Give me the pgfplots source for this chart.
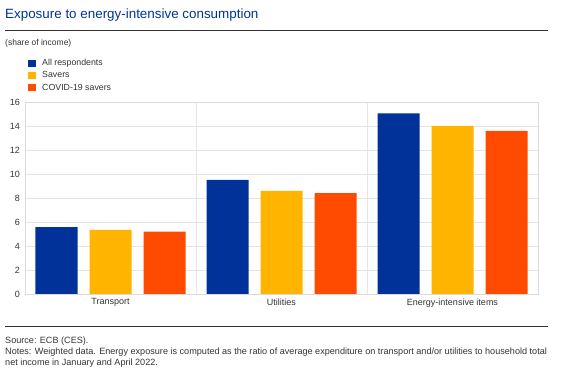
\documentclass[border=0pt]{standalone}
\usepackage{fontspec}
\setmainfont{Liberation Sans}
\usepackage{pgfplots}
\pgfplotsset{compat=1.18}
\definecolor{ecbblue}{HTML}{003299}
\definecolor{ecbyellow}{HTML}{FFB400}
\definecolor{ecborange}{HTML}{FF4B00}
\definecolor{txtgray}{HTML}{333333}
\begin{document}
\begin{tikzpicture}
\path[use as bounding box] (0pt,0pt) rectangle (563pt,380pt);
\node[anchor=base west, inner sep=0pt, text=ecbblue, font=\fontsize{13.4}{15}\selectfont] at (5pt,361pt) {Exposure to energy-intensive consumption};
\draw[txtgray, line width=0.9pt] (5pt,350pt) -- (548pt,350pt);
\node[anchor=base west, inner sep=0pt, text=txtgray, font=\fontsize{8.5}{10}\selectfont] at (5pt,334.5pt) {(share of income)};
\draw[txtgray, line width=0.9pt] (5pt,54pt) -- (548pt,54pt);
\node[anchor=base west, inner sep=0pt, text=txtgray, font=\fontsize{9.1}{10}\selectfont] at (5pt,36pt) {Source: ECB (CES).};
\node[anchor=base west, inner sep=0pt, text=txtgray, font=\fontsize{9.1}{10}\selectfont] at (5pt,25pt) {Notes: Weighted data. Energy exposure is computed as the ratio of average expenditure on transport and/or utilities to household total};
\node[anchor=base west, inner sep=0pt, text=txtgray, font=\fontsize{9.1}{10}\selectfont] at (5pt,14pt) {net income in January and April 2022.};
\begin{axis}[
  at={(25pt,86pt)}, anchor=south west,
  scale only axis, width=513pt, height=192pt,
  xmin=-0.5, xmax=2.5, ymin=0, ymax=16,
  ytick={0,2,...,16},
  xtick={0,1,2},
  xticklabels={Transport,Utilities,Energy-intensive items},
  major tick length=0pt,
  ymajorgrids,
  grid style={gray!20},
  axis line style={gray!28},
  extra x ticks={0.5,1.5},
  extra x tick labels={},
  extra x tick style={grid=major, major grid style={gray!20}},
  tick label style={font=\fontsize{9}{10}\selectfont, text=txtgray},
  yticklabel style={xshift=-1.5pt},
  xticklabel style={yshift=-1pt},
  /pgf/number format/assume math mode=true,
  ybar=12pt, bar width=42pt,
  legend style={draw=none, fill=none, at={(0.0,1.245)}, anchor=north west,
    font=\fontsize{8.8}{10}\selectfont, text=txtgray,
    nodes={inner sep=2pt, text height=6.5pt, text depth=1.7pt},
    /tikz/every odd column/.append style={column sep=4.5pt}},
  legend cell align=left,
]
\addplot[fill=ecbblue, draw=none, legend image code/.code={\fill[ecbblue] (0pt,-3.7pt) rectangle (7.5pt,3.7pt);}] coordinates {(0,5.58) (1,9.5) (2,15.05)};
\addplot[fill=ecbyellow, draw=none, legend image code/.code={\fill[ecbyellow] (0pt,-3.7pt) rectangle (7.5pt,3.7pt);}] coordinates {(0,5.35) (1,8.6) (2,14.0)};
\addplot[fill=ecborange, draw=none, legend image code/.code={\fill[ecborange] (0pt,-3.7pt) rectangle (7.5pt,3.7pt);}] coordinates {(0,5.2) (1,8.4) (2,13.6)};
\legend{All respondents, Savers, COVID-19 savers}
\end{axis}
\end{tikzpicture}
\end{document}
